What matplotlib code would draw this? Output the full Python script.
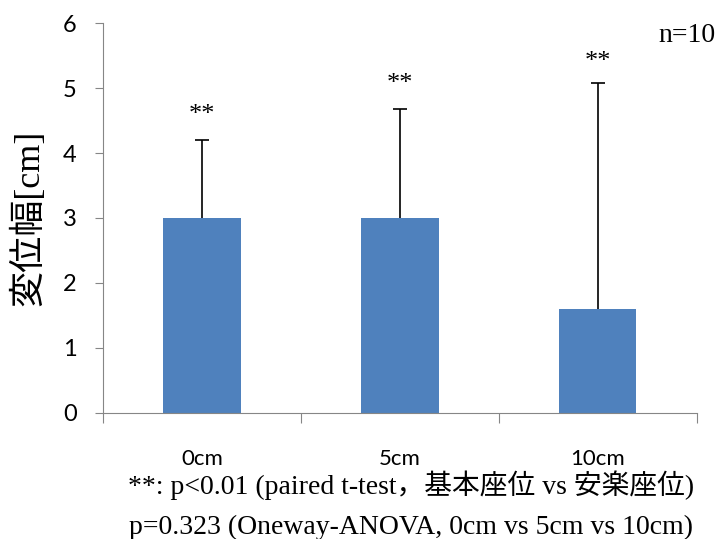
import matplotlib
matplotlib.use("Agg")
import matplotlib.pyplot as plt
import numpy as np

# data
categories = ["0cm", "5cm", "10cm"]
means = [3.0, 3.0, 1.6]
sd = [1.2, 1.68, 3.48]
star_y = [4.58, 5.06, 5.4]
yticks = [0, 1, 2, 3, 4, 5, 6]

bar_color = "#4f81bd"
axis_color = "#868686"
serif_jp = ["Liberation Serif", "Noto Sans CJK JP"]

fig = plt.figure(figsize=(7.18, 5.39), dpi=100)
ax = fig.add_axes([0.1435, 0.2338, 0.827, 0.7235])

x = np.arange(len(categories))
ax.bar(x, means, width=0.39, color=bar_color, zorder=2)
eb = ax.errorbar(x, means, yerr=[np.zeros(len(sd)), sd], fmt="none",
                 ecolor="black", elinewidth=1.2, capsize=5, capthick=1.2, zorder=3)
# only the upper cap is drawn in the original
eb.lines[1][0].set_visible(False)

for xi, sy in zip(x, star_y):
    ax.text(xi, sy, "**", ha="center", va="center", fontsize=19,
            family="Liberation Serif")

ax.set_xlim(-0.5, 2.5)
ax.set_ylim(0, 6)
ax.set_yticks(yticks)
ax.set_yticklabels([str(t) for t in yticks], family="Lato", fontsize=17)
ax.set_xticks([-0.5, 0.5, 1.5, 2.5])
ax.set_xticklabels([])
ax.set_xticks(x, minor=True)
ax.set_xticklabels(categories, minor=True, family="Lato", fontsize=16)
ax.tick_params(axis="x", which="major", length=7, color=axis_color, direction="out")
ax.tick_params(axis="x", which="minor", length=0, pad=26)
ax.tick_params(axis="y", length=6, color=axis_color, pad=13)

for s in ["top", "right"]:
    ax.spines[s].set_visible(False)
for s in ["left", "bottom"]:
    ax.spines[s].set_color(axis_color)

ax.set_ylabel("変位幅[cm]", family=serif_jp, fontsize=26, labelpad=12)

fig.text(0.996, 0.935, "n=10", ha="right", va="center", fontsize=20,
         family="Liberation Serif")
fig.text(0.573, 0.1, "**: p<0.01 (paired t-test，基本座位 vs 安楽座位)",
         ha="center", va="center", fontsize=20, family=serif_jp)
fig.text(0.573, 0.022, "p=0.323 (Oneway-ANOVA, 0cm vs 5cm vs 10cm)",
         ha="center", va="center", fontsize=20, family=serif_jp)

fig.savefig("out.png", dpi=100)
plt.close()
